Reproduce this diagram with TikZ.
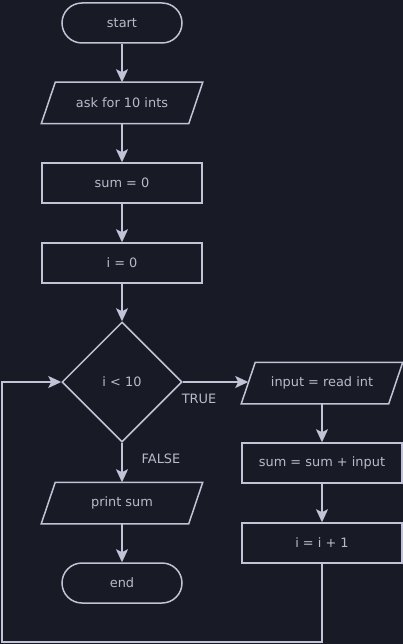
\documentclass[tikz,border=0pt]{standalone}
\usepackage{fontspec}
\setmainfont{DejaVu Sans}
\usepackage{tikz}
\usepackage{xcolor}
\usetikzlibrary{shapes.geometric,arrows.meta}
\definecolor{chart-bg}{HTML}{181A26}
\definecolor{chart-line}{HTML}{C2C3D6}
\definecolor{chart-text}{HTML}{B9BACB}
\tikzset{
    base-box/.style = {draw=chart-line, line width=1.5pt, text=chart-text, font=\fontsize{12.9}{15}\selectfont, inner sep=0pt},
    terminal-box/.style = {base-box, rectangle, rounded corners=20pt, minimum width=120pt, minimum height=40pt},
    process-box/.style = {base-box, rectangle, minimum width=160pt, minimum height=40pt},
    io-box/.style = {process-box, draw=none},
    io-border/.style = {draw=chart-line, line width=1.5pt},
    decision-box/.style = {base-box, diamond, minimum width=120pt, minimum height=120pt},
    branch-label/.style = {text=chart-text, font=\fontsize{12.9}{15}\selectfont, inner sep=0pt},
    flow-arrow/.style = {draw=chart-line, line width=1.5pt, -{Stealth[length=13pt, width=12pt, inset=3pt]}},
}

\begin{document}
\begin{tikzpicture}[x=1pt, y=-1pt]
\fill[chart-bg] (0,0) rectangle (403,644);
\useasboundingbox (0,0) rectangle (403,644);
\node [terminal-box] (start) at (122,23) {start};
\node [io-box] (ask) at (122,103) {ask for 10 ints};
\node [process-box] (sum-init) at (122,183) {sum = 0};
\node [process-box] (i-init) at (122,263) {i = 0};
\node [decision-box] (check) at (122,382) {i < 10};
\node [io-box] (read) at (322,383) {input = read int};
\node [process-box] (add) at (322,463) {sum = sum + input};
\node [process-box] (step-up) at (322,543) {i = i + 1};
\node [io-box] (print) at (122,503) {print sum};
\node [terminal-box] (end) at (122,583) {end};
\node [branch-label] (true-label) at (199,399) {TRUE};
\node [branch-label] (false-label) at (161,459) {FALSE};
\coordinate (loop-corner) at (2,642);

% slanted borders of the input/output boxes
\foreach \io in {ask, read, print}
    \draw [io-border] ([xshift=14pt]\io.north west) -- (\io.north east)
        -- ([xshift=-14pt]\io.south east) -- (\io.south west) -- cycle;

\draw [flow-arrow] (start) -- (ask);
\draw [flow-arrow] (ask) -- (sum-init);
\draw [flow-arrow] (sum-init) -- (i-init);
\draw [flow-arrow] (i-init) -- (check);
\draw [flow-arrow] (check.east) -- ([xshift=7pt]read.west |- check.east);
\draw [flow-arrow] (read) -- (add);
\draw [flow-arrow] (add) -- (step-up);
\draw [flow-arrow] (check) -- (print);
\draw [flow-arrow] (print) -- (end);
\draw [flow-arrow] (step-up.south) |- (loop-corner) |- (check.west);
\end{tikzpicture}
\end{document}
